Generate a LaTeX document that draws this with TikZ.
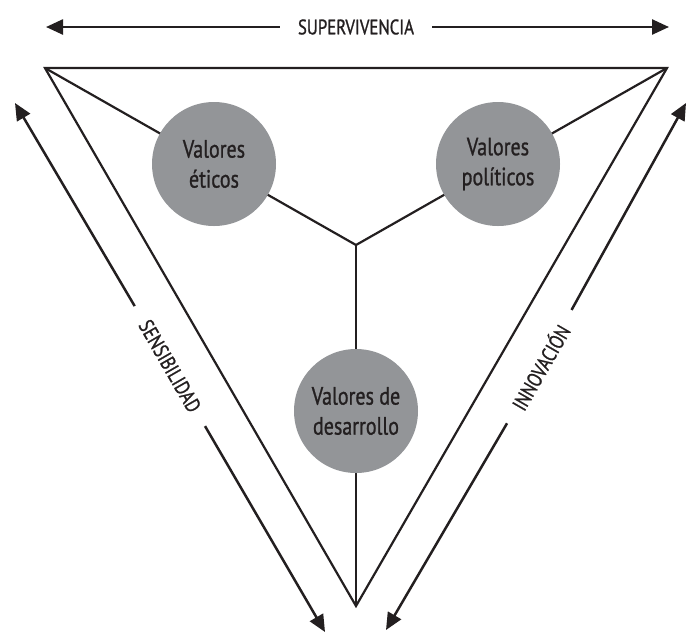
\documentclass[tikz,border=0pt]{standalone}
\usepackage{fontspec}
\setmainfont{PT Sans}[FakeStretch=0.8, FakeBold=1]
\usetikzlibrary{arrows.meta}
\definecolor{valgray}{HTML}{939598}
\definecolor{ink}{HTML}{231F20}

\begin{document}
\begin{tikzpicture}[
  x=1pt, y=-1pt,
  edge/.style={draw=ink, line width=2.2pt},
  arr/.style={draw=ink, line width=2.5pt, -{Triangle[length=17pt, width=15pt]}},
  valor/.style={circle, fill=valgray, minimum size=124pt, inner sep=0pt,
                align=center, text=ink, font=\fontsize{25}{30}\selectfont},
  eje/.style={text=ink, font=\fontsize{21}{21}\selectfont,
              inner ysep=0pt, inner xsep=18pt},
]
\useasboundingbox (0,0) rectangle (688,633);
% triangle and inner branches
\coordinate (tl) at (45,68);
\coordinate (tr) at (667,68);
\coordinate (bot) at (356,606);
\coordinate (mid) at (356,245);
\draw[edge, line join=miter] (tl) -- (tr) -- (bot) -- cycle;
\draw[edge] (tl) -- (mid) -- (tr);
\draw[edge] (mid) -- (bot);
\node[valor] (eticos) at (214,164) {Valores\\éticos};
\node[valor] (politicos) at (498,164) {Valores\\políticos};
\node[valor] (desarrollo) at (356,411) {Valores de\\desarrollo};
% outer axes
\coordinate (supL) at (46,27);
\coordinate (supR) at (669,27);
\coordinate (senT) at (15,103);
\coordinate (senB) at (325,632);
\coordinate (innT) at (686,103);
\coordinate (innB) at (386,630);
\node[eje] (sup) at (356,27) {SUPERVIVENCIA};
\node[eje, rotate=-60] (sen) at (170,366) {SENSIBILIDAD};
\node[eje, rotate=60] (inn) at (540,367) {INNOVACIÓN};
\draw[arr] (sup) -- (supL);
\draw[arr] (sup) -- (supR);
\draw[arr] (sen) -- (senT);
\draw[arr] (sen) -- (senB);
\draw[arr] (inn) -- (innT);
\draw[arr] (inn) -- (innB);
\end{tikzpicture}
\end{document}
